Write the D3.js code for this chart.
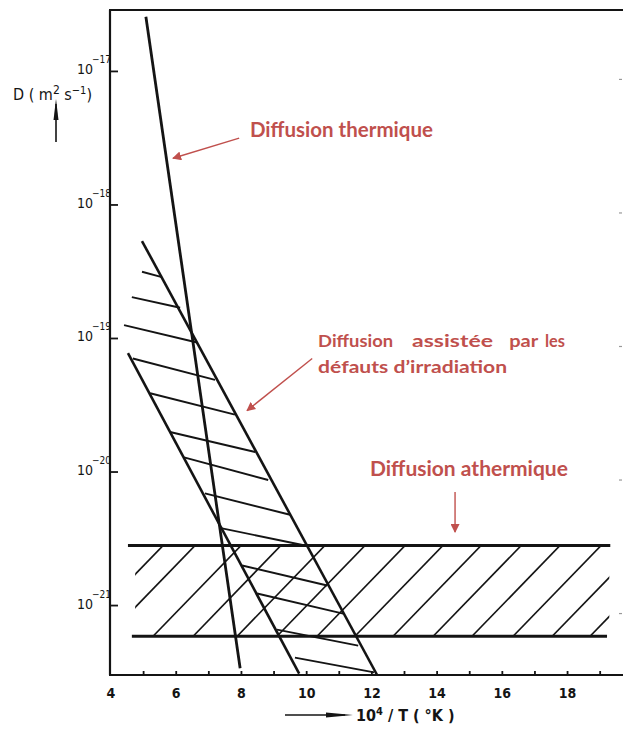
<!DOCTYPE html>
<html>
<head>
<meta charset="utf-8">
<script src="https://cdn.jsdelivr.net/npm/d3@7/dist/d3.min.js"></script>
<style>
  html, body { margin: 0; padding: 0; background: #fff; }
  svg { display: block; }
</style>
</head>
<body>
<svg id="chart" width="623" height="733"></svg>
<script>
// ---------------- DATA (x = 10^4/T, y = log10 D) ----------------
const xTickLabels = [4, 6, 8, 10, 12, 14, 16, 18];
const xMinorTicks = [5, 6, 7, 8, 9, 10, 11, 12, 13, 14, 15, 16, 17, 18, 19];
const yExponents = [-17, -18, -19, -20, -21];

// thermal diffusion line
const thermalLine = [[5.07, -16.59], [7.96, -21.47]];
// irradiation-assisted band
const irradUpper = [[4.95, -18.27], [12.16, -21.52]];
const irradLower = [[4.52, -19.11], [9.77, -21.51]];
const irradHatchX1 = [4.95, 4.64, 4.40, 4.67, 5.20, 5.81, 6.24, 6.88, 7.37, 8.02, 8.48, 9.09, 9.64];
const irradHatchY1 = [-18.50, -18.69, -18.90, -19.15, -19.41, -19.70, -19.89, -20.16, -20.42, -20.70, -20.91, -21.18, -21.39];
const irradHatchX2 = [5.56, 6.12, 6.64, 7.19, 7.80, 8.42, 8.82, 9.49, 9.95, 10.63, 11.12, 11.58, 12.07];
const irradHatchY2 = [-18.54, -18.77, -19.03, -19.31, -19.57, -19.85, -20.06, -20.32, -20.55, -20.85, -21.06, -21.30, -21.50];
// athermal band
const athermalUpperLine = [[4.52, -20.55], [19.31, -20.55]];
const athermalLowerLine = [[4.64, -21.23], [19.21, -21.23]];
const athermalHatchBottomX = [2.90, 3.88, 5.29, 6.52, 7.87, 9.09, 10.32, 11.48, 12.65, 13.88, 15.07, 16.33, 17.53, 18.69];
const athermalHatchTopX    = [5.60, 6.58, 7.99, 9.21, 10.56, 11.79, 13.02, 14.18, 15.35, 16.58, 17.77, 19.03, 20.23, 21.39];
const athermalHatchClipX = [4.74, 19.28];

// annotations (positions in data units)
const annotColor = "#c0504d";
const annotArrows = [
  [7.93, -17.50, 5.90, -17.65],
  [10.17, -19.15, 8.17, -19.54],
  [14.55, -20.15, 14.55, -20.45]
];

// ---------------- SCALES ----------------
const svg = d3.select("#chart");
const x = d3.scaleLinear().domain([4, 19.7]).range([111, 623]);
const y = d3.scaleLinear().domain([-21.52, -16.54]).range([675, 10]);
const line = d3.line().x(d => x(d[0])).y(d => y(d[1]));
const ink = "#141414";
const axFont = "'DejaVu Sans Condensed', 'DejaVu Sans', sans-serif";

// ---------------- AXES ----------------
const g = svg.append("g");
g.append("line").attr("x1", x(4) - 1).attr("x2", x(4) - 1)
  .attr("y1", y(-16.54)).attr("y2", y(-21.52))
  .attr("stroke", ink).attr("stroke-width", 2.2);
g.append("line").attr("x1", x(4) - 2).attr("x2", x(19.7))
  .attr("y1", y(-16.54)).attr("y2", y(-16.54))
  .attr("stroke", ink).attr("stroke-width", 2);
g.append("line").attr("x1", x(4) - 2).attr("x2", x(19.7))
  .attr("y1", y(-21.52)).attr("y2", y(-21.52))
  .attr("stroke", ink).attr("stroke-width", 2.2);

// x ticks
g.selectAll(".xt").data(xMinorTicks).enter().append("line")
  .attr("x1", d => x(d)).attr("x2", d => x(d))
  .attr("y1", y(-21.52)).attr("y2", y(-21.52) - 4)
  .attr("stroke", ink).attr("stroke-width", 1.8);
g.selectAll(".xl").data(xTickLabels).enter().append("text")
  .attr("x", d => x(d)).attr("y", y(-21.52) + 23)
  .attr("text-anchor", "middle")
  .attr("font-family", axFont)
  .attr("font-weight", "bold").attr("font-size", 14)
  .attr("fill", ink)
  .text(d => d);

// y ticks
g.selectAll(".yt").data(yExponents).enter().append("line")
  .attr("x1", x(4) - 1).attr("x2", x(4) + 7)
  .attr("y1", d => y(d)).attr("y2", d => y(d))
  .attr("stroke", ink).attr("stroke-width", 1.8);
g.selectAll(".ytr").data(yExponents).enter().append("line")
  .attr("x1", x(19.7) - 4).attr("x2", x(19.7) - 1)
  .attr("y1", d => y(d) + 8).attr("y2", d => y(d) + 8)
  .attr("stroke", "#999").attr("stroke-width", 1.2);
const yl = g.selectAll(".yl").data(yExponents).enter().append("g");
yl.append("text")
  .attr("x", x(4) - 18).attr("y", d => y(d) + 3)
  .attr("text-anchor", "end")
  .attr("font-family", axFont)
  .attr("font-size", 14).attr("fill", ink)
  .text("10");
yl.append("text")
  .attr("x", x(4) - 19).attr("y", d => y(d) - 8)
  .attr("text-anchor", "start")
  .attr("font-family", axFont)
  .attr("font-size", 10).attr("fill", ink)
  .text(d => "\u2212" + Math.abs(d));

// y axis title
const yt = svg.append("text").attr("x", 13).attr("y", 100)
  .attr("font-family", axFont)
  .attr("font-size", 16).attr("fill", ink);
yt.append("tspan").text("D ( m");
yt.append("tspan").attr("dy", -6).attr("font-size", 12).text("2");
yt.append("tspan").attr("dy", 6).text(" s");
yt.append("tspan").attr("dy", -6).attr("font-size", 11).text("\u22121");
yt.append("tspan").attr("dy", 6).text(")");
svg.append("line").attr("x1", 56).attr("x2", 56).attr("y1", 142).attr("y2", 104)
  .attr("stroke", ink).attr("stroke-width", 1.6);
svg.append("path").attr("d", "M56,99 L58.5,120 L53.5,120 Z").attr("fill", ink);

// x axis title
svg.append("line").attr("x1", 285).attr("x2", 345).attr("y1", 715).attr("y2", 715)
  .attr("stroke", ink).attr("stroke-width", 1.6);
svg.append("path").attr("d", "M353,715 L326,712.5 L326,717.5 Z").attr("fill", ink);
const xt = svg.append("text").attr("x", 356).attr("y", 721)
  .attr("font-family", axFont)
  .attr("font-weight", "bold").attr("font-size", 16).attr("fill", ink);
xt.append("tspan").text("10");
xt.append("tspan").attr("dy", -6).attr("font-size", 11).text("4");
xt.append("tspan").attr("dy", 6).text(" / T ( \u00b0K )");

// ---------------- MARKS ----------------
const marks = svg.append("g");
const defs = svg.append("defs");

// athermal hatch (clipped)
const clip = defs.append("clipPath").attr("id", "athClip");
clip.append("rect")
  .attr("x", x(athermalHatchClipX[0])).attr("width", x(athermalHatchClipX[1]) - x(athermalHatchClipX[0]))
  .attr("y", y(athermalUpperLine[0][1])).attr("height", y(athermalLowerLine[0][1]) - y(athermalUpperLine[0][1]));
marks.append("g").attr("clip-path", "url(#athClip)")
  .selectAll("line").data(athermalHatchBottomX).enter().append("line")
  .attr("x1", d => x(d)).attr("y1", y(athermalLowerLine[0][1]))
  .attr("x2", (d, i) => x(athermalHatchTopX[i])).attr("y2", y(athermalUpperLine[0][1]))
  .attr("stroke", ink).attr("stroke-width", 1.7);

[athermalUpperLine, athermalLowerLine].forEach(l => {
  marks.append("path").attr("d", line(l)).attr("fill", "none")
    .attr("stroke", ink).attr("stroke-width", 3);
});

// irradiation hatch
marks.selectAll(".ih").data(irradHatchX1).enter().append("line")
  .attr("x1", d => x(d)).attr("y1", (d, i) => y(irradHatchY1[i]))
  .attr("x2", (d, i) => x(irradHatchX2[i])).attr("y2", (d, i) => y(irradHatchY2[i]))
  .attr("stroke", ink).attr("stroke-width", 1.9);

[irradUpper, irradLower].forEach(l => {
  marks.append("path").attr("d", line(l)).attr("fill", "none")
    .attr("stroke", ink).attr("stroke-width", 2.6);
});

// thermal line
marks.append("path").attr("d", line(thermalLine)).attr("fill", "none")
  .attr("stroke", ink).attr("stroke-width", 2.8);

// ---------------- ANNOTATIONS ----------------
defs.append("marker").attr("id", "rarrow").attr("viewBox", "0 0 10 10")
  .attr("refX", 9).attr("refY", 5).attr("markerWidth", 9).attr("markerHeight", 9)
  .attr("markerUnits", "userSpaceOnUse").attr("orient", "auto")
  .append("path").attr("d", "M0,0 L10,5 L0,10 Z").attr("fill", annotColor);

svg.selectAll(".arr").data(annotArrows).enter().append("line")
  .attr("x1", d => x(d[0])).attr("y1", d => y(d[1]))
  .attr("x2", d => x(d[2])).attr("y2", d => y(d[3]))
  .attr("stroke", annotColor).attr("stroke-width", 1.4)
  .attr("marker-end", "url(#rarrow)");

const afont = "Lato, 'Open Sans', sans-serif";
function label(txt, xd, yd, size, len) {
  const t = svg.append("text").attr("x", x(xd)).attr("y", y(yd))
    .attr("font-family", afont).attr("font-weight", "bold")
    .attr("font-size", size).attr("fill", annotColor).text(txt);
  if (len) t.attr("textLength", len).attr("lengthAdjust", "spacingAndGlyphs");
  return t;
}
label("Diffusion thermique", 8.26, -17.49, 20, 183);
label("Diffusion", 10.35, -19.06, 17, 75);
label("assistée", 13.23, -19.06, 17, 81);
label("par", 16.21, -19.06, 17, 29);
label("les", 17.31, -19.06, 17, 20);
label("défauts d\u2019irradiation", 10.35, -19.26, 17, 189);
label("Diffusion athermique", 11.94, -20.03, 20, 198);
</script>
</body>
</html>
